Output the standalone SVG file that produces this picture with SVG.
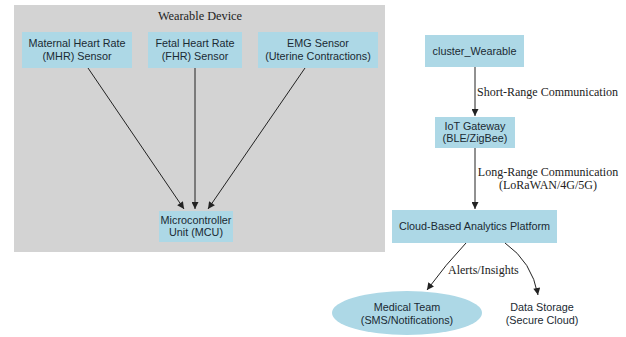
<svg xmlns="http://www.w3.org/2000/svg" width="626" height="337" viewBox="0 0 626 337">
<style>
.node rect, .node ellipse { fill: #add8e6; stroke: none; }
.nt { font-family: "Liberation Sans", Arial, sans-serif; font-size: 10.8px; fill: #1a2a33; text-anchor: middle; }
.et { font-family: "Liberation Serif", "Times New Roman", serif; font-size: 12px; fill: #222; }
.ct { font-family: "Liberation Serif", "Times New Roman", serif; font-size: 12.3px; fill: #222; text-anchor: middle; }
.edges path { fill: none; stroke: #222; stroke-width: 1; }
</style>
<defs>
<marker id="arr" viewBox="0 0 10 10" refX="10" refY="5" markerWidth="8" markerHeight="7" orient="auto" markerUnits="userSpaceOnUse">
<path d="M0,0 L10,5 L0,10 z" fill="#222"/>
</marker>
</defs>
<rect width="626" height="337" fill="#ffffff"/>
<g id="cluster_wearable">
<rect x="14" y="5" width="371" height="247" fill="#d3d3d3"/>
<text class="ct" x="200" y="20">Wearable Device</text>
</g>
<g id="mhr" class="node">
<rect x="22" y="32" width="110" height="36"/>
<text class="nt" x="77" y="47">Maternal Heart Rate</text>
<text class="nt" x="77" y="60">(MHR) Sensor</text>
</g>
<g id="fhr" class="node">
<rect x="148" y="32" width="94" height="36"/>
<text class="nt" x="195" y="47">Fetal Heart Rate</text>
<text class="nt" x="195" y="60">(FHR) Sensor</text>
</g>
<g id="emg" class="node">
<rect x="258" y="32" width="120" height="36"/>
<text class="nt" x="318" y="47">EMG Sensor</text>
<text class="nt" x="318" y="60">(Uterine Contractions)</text>
</g>
<g id="mcu" class="node">
<rect x="159" y="211" width="74" height="31"/>
<text class="nt" x="196" y="224">Microcontroller</text>
<text class="nt" x="196" y="236">Unit (MCU)</text>
</g>
<g id="cluster_node" class="node">
<rect x="425" y="35" width="99" height="32"/>
<text class="nt" x="474.5" y="55">cluster_Wearable</text>
</g>
<g id="iot" class="node">
<rect x="435" y="117" width="80" height="31"/>
<text class="nt" x="475" y="130">IoT Gateway</text>
<text class="nt" x="475" y="142">(BLE/ZigBee)</text>
</g>
<g id="cloud" class="node">
<rect x="392" y="210" width="165" height="33"/>
<text class="nt" x="474.5" y="230">Cloud-Based Analytics Platform</text>
</g>
<g id="medical" class="node">
<ellipse cx="407" cy="313" rx="75" ry="22"/>
<text class="nt" x="407" y="311">Medical Team</text>
<text class="nt" x="407" y="324">(SMS/Notifications)</text>
</g>
<g id="storage">
<text class="nt" x="542" y="311">Data Storage</text>
<text class="nt" x="542" y="324">(Secure Cloud)</text>
</g>
<g class="edges" id="connectors">
<path d="M88,68 L184,209" marker-end="url(#arr)"/>
<path d="M195,68 L195,209" marker-end="url(#arr)"/>
<path d="M305,68 L208,209" marker-end="url(#arr)"/>
<path d="M475,67 L475,116" marker-end="url(#arr)"/>
<path d="M475,148 L475,209" marker-end="url(#arr)"/>
<path d="M466,243 Q446,264 427,290" marker-end="url(#arr)"/>
<path d="M505,243 Q532,262 538,295" marker-end="url(#arr)"/>
</g>
<g id="edge_labels">
<text class="et" x="477" y="96">Short-Range Communication</text>
<text class="et" x="548" y="176" text-anchor="middle">Long-Range Communication</text>
<text class="et" x="548" y="189" text-anchor="middle">(LoRaWAN/4G/5G)</text>
<text class="et" x="448" y="274">Alerts/Insights</text>
</g>
</svg>
